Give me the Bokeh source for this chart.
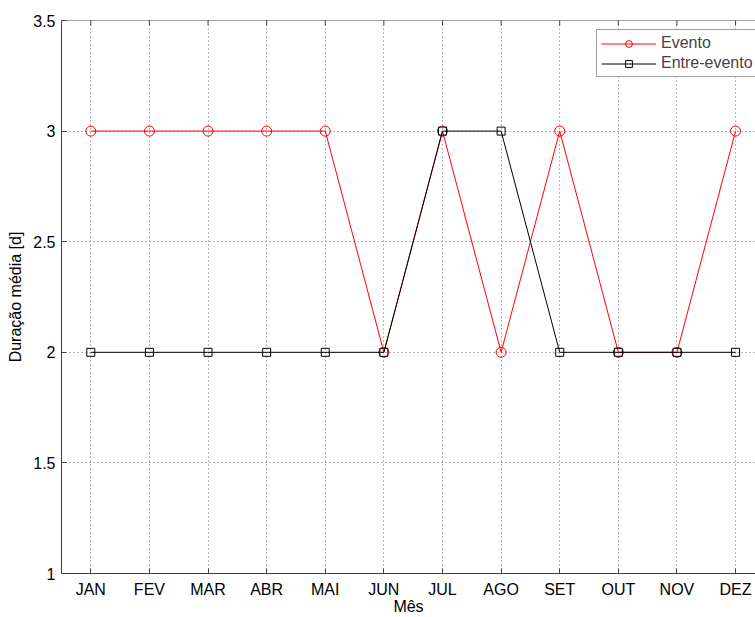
import math
from bokeh.plotting import figure
from bokeh.models import FixedTicker, Range1d, Legend, LegendItem, Span
from bokeh.embed import file_html
from bokeh.resources import INLINE

meses = ["JAN", "FEV", "MAR", "ABR", "MAI", "JUN", "JUL", "AGO", "SET", "OUT", "NOV", "DEZ"]
evento = [3, 3, 3, 3, 3, 2, 3, 2, 3, 2, 2, 3]
entre_evento = [2, 2, 2, 2, 2, 2, 3, 3, 2, 2, 2, 2]
y_ticks = [1, 1.5, 2, 2.5, 3, 3.5]
y_labels = ["1", "1.5", "2", "2.5", "3", "3.5"]
x_pos = list(range(1, len(meses) + 1))

FONT = "Liberation Sans"
AXC = "#404040"

p = figure(width=755, height=617, output_backend="svg", toolbar_location=None,
           x_range=Range1d(0.5, 12.34), y_range=Range1d(y_ticks[0], y_ticks[-1]),
           min_border_left=61, min_border_right=0, min_border_top=20, min_border_bottom=43,
           x_axis_label="Mês", y_axis_label="Duração média [d]")
p.background_fill_color = "white"
p.border_fill_color = "white"
p.outline_line_color = None

for ax in p.xaxis + p.yaxis:
    ax.major_tick_in = 5
    ax.major_tick_out = 0
    ax.minor_tick_in = 0
    ax.minor_tick_out = 0
    ax.axis_line_color = AXC
    ax.major_tick_line_color = AXC
    ax.major_label_text_font = FONT
    ax.major_label_text_font_size = "16px"
    ax.major_label_text_color = "black"
    ax.axis_label_text_font = FONT
    ax.axis_label_text_font_size = "16px"
    ax.axis_label_text_font_style = "normal"
    ax.axis_label_text_color = "black"

p.xaxis.ticker = FixedTicker(ticks=x_pos)
p.xaxis.major_label_overrides = {i: m for i, m in zip(x_pos, meses)}
p.xaxis.major_label_standoff = 7
p.xaxis.axis_label_standoff = -3
p.yaxis.ticker = FixedTicker(ticks=y_ticks)
p.yaxis.major_label_overrides = {t: l for t, l in zip(y_ticks, y_labels)}
p.yaxis.major_label_standoff = 6
p.yaxis.axis_label_standoff = 6

for g in (p.xgrid, p.ygrid):
    g.grid_line_color = "#707070"
    g.grid_line_dash = "1 3"
    g.grid_line_width = 1
p.xgrid.ticker = FixedTicker(ticks=x_pos)
p.ygrid.ticker = FixedTicker(ticks=y_ticks)

# top border of the box and its inward tick marks
p.add_layout(Span(location=y_ticks[-1], dimension="width", line_color=AXC, line_width=1))
p.scatter(x_pos, [y_ticks[-1]] * len(x_pos), marker="dash", angle=math.pi / 2, size=10,
          line_color=AXC, line_width=1)

r1 = p.line(x_pos, evento, line_color="red", line_width=1)
s1 = p.scatter(x_pos, evento, marker="circle", size=10, fill_color=None, line_color="red", line_width=1)
r2 = p.line(x_pos, entre_evento, line_color="black", line_width=1)
s2 = p.scatter(x_pos, entre_evento, marker="square", size=8, fill_color=None, line_color="black", line_width=1)

legend = Legend(items=[LegendItem(label="Evento", renderers=[r1, s1]),
                       LegendItem(label="Entre-evento", renderers=[r2, s2])],
                location=(535, 496))
legend.label_text_font = FONT
legend.label_text_font_size = "16px"
legend.glyph_width = 55
legend.glyph_height = 17
legend.spacing = 2
legend.padding = 4
legend.margin = 0
legend.label_standoff = 5
legend.label_height = 17
legend.border_line_color = AXC
legend.background_fill_alpha = 1
p.add_layout(legend)

open("out.html", "w").write(file_html(p, INLINE))
